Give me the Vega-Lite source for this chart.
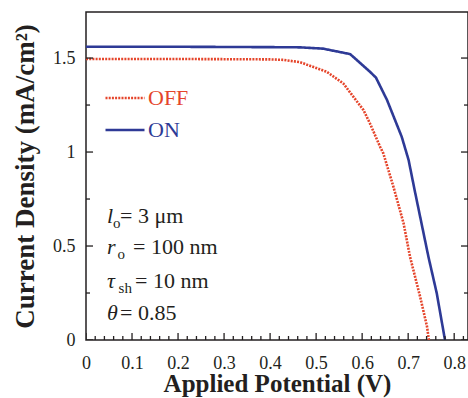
{
  "$schema": "https://vega.github.io/schema/vega-lite/v6.json",
  "width": 382,
  "height": 328,
  "autosize": {"type": "none"},
  "padding": {"left": 86, "top": 12, "right": 0, "bottom": 58},
  "background": "white",
  "config": {
    "view": {"stroke": "#231f20", "strokeWidth": 1.5},
    "font": "Liberation Serif"
  },
  "datasets": {
    "curves": [
      {"state": "OFF", "V": 0, "J": 1.495},
      {"state": "OFF", "V": 0.2, "J": 1.495},
      {"state": "OFF", "V": 0.4, "J": 1.493},
      {"state": "OFF", "V": 0.43, "J": 1.49},
      {"state": "OFF", "V": 0.465, "J": 1.478},
      {"state": "OFF", "V": 0.523, "J": 1.427},
      {"state": "OFF", "V": 0.559, "J": 1.365},
      {"state": "OFF", "V": 0.603, "J": 1.223},
      {"state": "OFF", "V": 0.617, "J": 1.152},
      {"state": "OFF", "V": 0.639, "J": 1.028},
      {"state": "OFF", "V": 0.646, "J": 0.993},
      {"state": "OFF", "V": 0.668, "J": 0.815},
      {"state": "OFF", "V": 0.69, "J": 0.621},
      {"state": "OFF", "V": 0.704, "J": 0.443},
      {"state": "OFF", "V": 0.726, "J": 0.23},
      {"state": "OFF", "V": 0.741, "J": 0.071},
      {"state": "OFF", "V": 0.745, "J": 0},
      {"state": "ON", "V": 0, "J": 1.56},
      {"state": "ON", "V": 0.2, "J": 1.56},
      {"state": "ON", "V": 0.4, "J": 1.558},
      {"state": "ON", "V": 0.465, "J": 1.557},
      {"state": "ON", "V": 0.515, "J": 1.55},
      {"state": "ON", "V": 0.574, "J": 1.521},
      {"state": "ON", "V": 0.617, "J": 1.427},
      {"state": "ON", "V": 0.63, "J": 1.396},
      {"state": "ON", "V": 0.654, "J": 1.277},
      {"state": "ON", "V": 0.686, "J": 1.081},
      {"state": "ON", "V": 0.701, "J": 0.957},
      {"state": "ON", "V": 0.714, "J": 0.798},
      {"state": "ON", "V": 0.744, "J": 0.443},
      {"state": "ON", "V": 0.762, "J": 0.25},
      {"state": "ON", "V": 0.78, "J": 0}
    ],
    "notes": [
      {"sym": "l", "sub": "o", "rest": "= 3 μm", "x0": 0.0457, "xs": 0.0587, "xr": 0.0739, "y": 0.621},
      {"sym": "r", "sub": "o", "rest": "= 100 nm", "x0": 0.0457, "xs": 0.0685, "xr": 0.1022, "y": 0.457},
      {"sym": "τ", "sub": "sh", "rest": "= 10 nm", "x0": 0.0457, "xs": 0.0707, "xr": 0.1065, "y": 0.277},
      {"sym": "θ", "sub": "", "rest": "= 0.85", "x0": 0.0457, "xs": 0.07, "xr": 0.0739, "y": 0.106}
    ],
    "xticks": [
      {"v": 0, "kind": "maj"}, {"v": 0.02, "kind": "min"}, {"v": 0.04, "kind": "min"}, {"v": 0.06, "kind": "min"}, {"v": 0.08, "kind": "min"},
      {"v": 0.1, "kind": "maj"}, {"v": 0.12, "kind": "min"}, {"v": 0.14, "kind": "min"}, {"v": 0.16, "kind": "min"}, {"v": 0.18, "kind": "min"},
      {"v": 0.2, "kind": "maj"}, {"v": 0.22, "kind": "min"}, {"v": 0.24, "kind": "min"}, {"v": 0.26, "kind": "min"}, {"v": 0.28, "kind": "min"},
      {"v": 0.3, "kind": "maj"}, {"v": 0.32, "kind": "min"}, {"v": 0.34, "kind": "min"}, {"v": 0.36, "kind": "min"}, {"v": 0.38, "kind": "min"},
      {"v": 0.4, "kind": "maj"}, {"v": 0.42, "kind": "min"}, {"v": 0.44, "kind": "min"}, {"v": 0.46, "kind": "min"}, {"v": 0.48, "kind": "min"},
      {"v": 0.5, "kind": "maj"}, {"v": 0.52, "kind": "min"}, {"v": 0.54, "kind": "min"}, {"v": 0.56, "kind": "min"}, {"v": 0.58, "kind": "min"},
      {"v": 0.6, "kind": "maj"}, {"v": 0.62, "kind": "min"}, {"v": 0.64, "kind": "min"}, {"v": 0.66, "kind": "min"}, {"v": 0.68, "kind": "min"},
      {"v": 0.7, "kind": "maj"}, {"v": 0.72, "kind": "min"}, {"v": 0.74, "kind": "min"}, {"v": 0.76, "kind": "min"}, {"v": 0.78, "kind": "min"},
      {"v": 0.8, "kind": "maj"}, {"v": 0.82, "kind": "min"}
    ],
    "yticks": [
      {"v": 0, "kind": "maj"}, {"v": 0.25, "kind": "min"}, {"v": 0.5, "kind": "maj"}, {"v": 0.75, "kind": "min"},
      {"v": 1, "kind": "maj"}, {"v": 1.25, "kind": "min"}, {"v": 1.5, "kind": "maj"}
    ]
  },
  "layer": [
    {
      "data": {"name": "curves"},
      "mark": {"type": "line", "strokeWidth": 2.6, "clip": true},
      "encoding": {
        "x": {
          "field": "V", "type": "quantitative",
          "scale": {"domain": [0, 0.83], "nice": false, "zero": false},
          "axis": {
            "orient": "bottom", "domain": false, "ticks": false, "zindex": 0,
            "title": "Applied Potential (V)",
            "titleFont": "Liberation Serif", "titleFontSize": 25, "titleFontWeight": "bold",
            "titleColor": "#231f20", "titlePadding": -1,
            "values": [0, 0.1, 0.2, 0.3, 0.4, 0.5, 0.6, 0.7, 0.8],
            "labelExpr": "format(datum.value,'.1~f')",
            "labelFont": "Liberation Serif", "labelFontSize": 18, "labelColor": "#231f20",
            "labelPadding": 14, "labelFlush": false, "labelOverlap": false, "grid": false
          }
        },
        "y": {
          "field": "J", "type": "quantitative",
          "scale": {"domain": [0, 1.745], "nice": false, "zero": false},
          "axis": {
            "orient": "left", "domain": false, "ticks": false, "zindex": 0,
            "title": "Current Density (mA/cm²)",
            "titleFont": "Liberation Serif", "titleFontSize": 27, "titleFontWeight": "bold",
            "titleColor": "#231f20", "titlePadding": 13,
            "values": [0, 0.5, 1, 1.5],
            "labelExpr": "format(datum.value,'~g')",
            "labelFont": "Liberation Serif", "labelFontSize": 18, "labelColor": "#231f20",
            "labelPadding": 11, "labelFlush": false, "labelOverlap": false, "grid": false
          }
        },
        "color": {
          "field": "state", "type": "nominal",
          "scale": {"domain": ["OFF", "ON"], "range": ["#e5452b", "#2e3a96"]},
          "legend": {
            "orient": "none", "legendX": 18, "legendY": 65, "title": null,
            "symbolType": "stroke", "symbolSize": 1521, "symbolStrokeWidth": 2.6,
            "labelFont": "Liberation Serif", "labelFontSize": 22, "labelOffset": 2,
            "rowPadding": 0, "padding": 0,
            "encode": {"labels": {"update": {"fill": {"signal": "datum.label == 'OFF' ? '#e5452b' : '#2e3a96'"}}}}
          }
        },
        "strokeDash": {
          "field": "state", "type": "nominal",
          "scale": {"domain": ["OFF", "ON"], "range": [[2, 1.2], [1, 0]]}
        }
      }
    },
    {
      "data": {"name": "xticks"},
      "mark": {"type": "tick", "orient": "vertical", "clip": true, "thickness": 1.3, "color": "#231f20", "opacity": 1},
      "encoding": {
        "x": {"field": "v", "type": "quantitative", "scale": {"domain": [0, 0.83], "nice": false, "zero": false}, "axis": null},
        "y": {"datum": 0, "type": "quantitative", "scale": {"domain": [0, 1.745], "nice": false, "zero": false}, "axis": null},
        "size": {"field": "kind", "type": "nominal", "scale": {"domain": ["maj", "min"], "range": [14, 8]}, "legend": null}
      }
    },
    {
      "data": {"name": "yticks"},
      "mark": {"type": "tick", "orient": "horizontal", "clip": true, "thickness": 1.3, "color": "#231f20", "opacity": 1},
      "encoding": {
        "x": {"datum": 0.0001, "type": "quantitative", "scale": {"domain": [0, 0.83], "nice": false, "zero": false}, "axis": null},
        "y": {"field": "v", "type": "quantitative", "scale": {"domain": [0, 1.745], "nice": false, "zero": false}, "axis": null},
        "size": {"field": "kind", "type": "nominal", "scale": {"domain": ["maj", "min"], "range": [14, 8]}, "legend": null}
      }
    },
    {
      "data": {"name": "yticks"},
      "mark": {"type": "tick", "orient": "horizontal", "clip": true, "thickness": 1.3, "color": "#231f20", "opacity": 1},
      "encoding": {
        "x": {"datum": 0.83, "type": "quantitative", "scale": {"domain": [0, 0.83], "nice": false, "zero": false}, "axis": null},
        "y": {"field": "v", "type": "quantitative", "scale": {"domain": [0, 1.745], "nice": false, "zero": false}, "axis": null},
        "size": {"field": "kind", "type": "nominal", "scale": {"domain": ["maj", "min"], "range": [14, 8]}, "legend": null}
      }
    },
    {
      "data": {"name": "notes"},
      "mark": {"type": "text", "align": "left", "baseline": "alphabetic", "font": "Liberation Serif", "fontStyle": "italic", "fontSize": 22, "color": "#231f20"},
      "encoding": {
        "x": {"field": "x0", "type": "quantitative", "scale": {"domain": [0, 0.83], "nice": false, "zero": false}, "axis": null},
        "y": {"field": "y", "type": "quantitative", "scale": {"domain": [0, 1.745], "nice": false, "zero": false}, "axis": null},
        "text": {"field": "sym"}
      }
    },
    {
      "data": {"name": "notes"},
      "mark": {"type": "text", "align": "left", "baseline": "alphabetic", "font": "Liberation Serif", "fontSize": 15, "dy": 5, "color": "#231f20"},
      "encoding": {
        "x": {"field": "xs", "type": "quantitative", "scale": {"domain": [0, 0.83], "nice": false, "zero": false}, "axis": null},
        "y": {"field": "y", "type": "quantitative", "scale": {"domain": [0, 1.745], "nice": false, "zero": false}, "axis": null},
        "text": {"field": "sub"}
      }
    },
    {
      "data": {"name": "notes"},
      "mark": {"type": "text", "align": "left", "baseline": "alphabetic", "font": "Liberation Serif", "fontSize": 22, "color": "#231f20"},
      "encoding": {
        "x": {"field": "xr", "type": "quantitative", "scale": {"domain": [0, 0.83], "nice": false, "zero": false}, "axis": null},
        "y": {"field": "y", "type": "quantitative", "scale": {"domain": [0, 1.745], "nice": false, "zero": false}, "axis": null},
        "text": {"field": "rest"}
      }
    }
  ],
  "resolve": {"axis": {"x": "independent", "y": "independent"}}
}
